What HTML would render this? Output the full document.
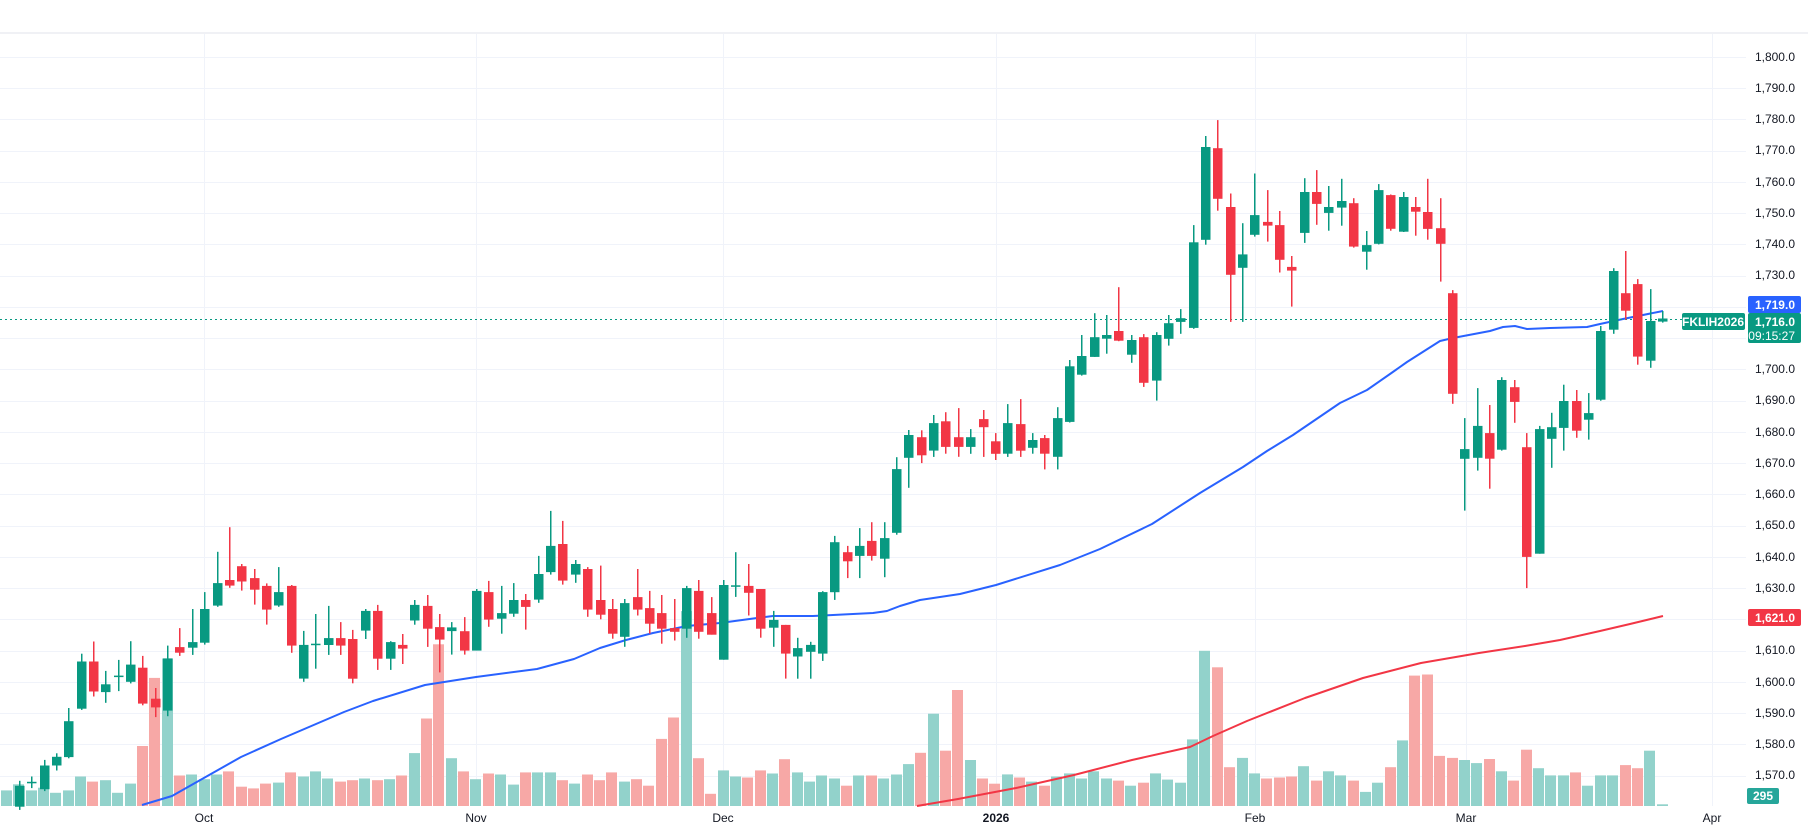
<!DOCTYPE html>
<html><head><meta charset="utf-8"><style>
html,body{margin:0;padding:0;background:#fff;width:1808px;height:829px;overflow:hidden}
svg{display:block;font-family:"Liberation Sans",sans-serif}
</style></head><body>
<svg id="c" width="1808" height="829" xmlns="http://www.w3.org/2000/svg">
<rect x="0" y="0" width="1808" height="829" fill="#fff"/>
<line x1="0" y1="33" x2="1808" y2="33" stroke="#e0e3eb" stroke-width="1"/>
<g id="grid" stroke="#f0f3fa" stroke-width="1"></g>
<g id="vol"></g>
<polyline fill="none" stroke="#2962ff" stroke-width="2" stroke-linejoin="round" points="142,805 172,796 241,757 281,739 344,712 373,701 425,685 476,677 537,669 574,659 600,648 626,640 653,633 687,626 720,623 757,618 773,616 813,616 873,613 887,611 900,606 920,600 960,594 996,585 1060,565 1100,549 1152,524 1200,493 1243,467 1267,451 1293,435 1340,403 1367,390 1390,374 1407,362 1440,341 1453,338 1490,331 1503,327 1515,326 1527,329 1550,328 1587,327 1600,324 1623,319 1663,311"/>
<polyline fill="none" stroke="#f23645" stroke-width="2" stroke-linejoin="round" points="917,806 958,799 1016,788 1074,775 1132,760 1190,747 1213,736 1247,721 1305,698 1363,678 1421,663 1479,653 1525,646 1560,640 1600,631 1630,624 1663,616"/>
<line x1="0" y1="319.5" x2="1682" y2="319.5" stroke="#089981" stroke-width="1" stroke-dasharray="2,3"/>
<g id="cand"></g>
<g font-size="12" fill="#131722" text-anchor="end">
<text x="1795" y="61">1,800.0</text><text x="1795" y="92">1,790.0</text><text x="1795" y="123">1,780.0</text><text x="1795" y="154">1,770.0</text><text x="1795" y="186">1,760.0</text><text x="1795" y="217">1,750.0</text><text x="1795" y="248">1,740.0</text><text x="1795" y="279">1,730.0</text><text x="1795" y="373">1,700.0</text><text x="1795" y="404">1,690.0</text><text x="1795" y="436">1,680.0</text><text x="1795" y="467">1,670.0</text><text x="1795" y="498">1,660.0</text><text x="1795" y="529">1,650.0</text><text x="1795" y="561">1,640.0</text><text x="1795" y="592">1,630.0</text><text x="1795" y="654">1,610.0</text><text x="1795" y="686">1,600.0</text><text x="1795" y="717">1,590.0</text><text x="1795" y="748">1,580.0</text><text x="1795" y="779">1,570.0</text>
</g>
<rect x="1748" y="296" width="53" height="17" rx="2" fill="#2962ff"/>
<text x="1795" y="309" font-size="12" font-weight="bold" fill="#fff" text-anchor="end">1,719.0</text>
<rect x="1682" y="313" width="63" height="17" rx="2" fill="#089981"/>
<text x="1713" y="326" font-size="12" font-weight="bold" fill="#fff" text-anchor="middle">FKLIH2026</text>
<rect x="1748" y="313" width="53" height="30" rx="2" fill="#089981"/>
<text x="1795" y="326" font-size="12" font-weight="bold" fill="#fff" text-anchor="end">1,716.0</text>
<text x="1795" y="340" font-size="12" fill="#fff" text-anchor="end">09:15:27</text>
<rect x="1748" y="609" width="53" height="17" rx="2" fill="#f23645"/>
<text x="1795" y="622" font-size="12" font-weight="bold" fill="#fff" text-anchor="end">1,621.0</text>
<rect x="1747" y="788" width="32" height="16" rx="2" fill="#26a69a"/>
<text x="1763" y="800" font-size="12" font-weight="bold" fill="#fff" text-anchor="middle">295</text>
<g font-size="12" fill="#131722" text-anchor="middle">
<text x="204" y="822">Oct</text><text x="476" y="822">Nov</text><text x="723" y="822">Dec</text><text x="996" y="822" font-weight="bold">2026</text><text x="1255" y="822">Feb</text><text x="1466" y="822">Mar</text><text x="1712" y="822">Apr</text>
</g>
</svg>
<script>
var NS="http://www.w3.org/2000/svg";
function el(p,t,a){var e=document.createElementNS(NS,t);for(var k in a)e.setAttribute(k,a[k]);p.appendChild(e);return e;}
function Y(p){return 57+(1800-p)*3.124;}
var g=document.getElementById('grid');
for(var p=1570;p<=1800;p+=10){var y=Math.round(Y(p))+0.5;el(g,'line',{x1:0,y1:y,x2:1746,y2:y});}
[204,476,723,996,1255,1466,1712].forEach(function(x){el(g,'line',{x1:x+0.5,y1:34,x2:x+0.5,y2:806});});
var D=[null,[1560,1568.3,1559,1566.7],[1567.6,1569.7,1566,1568],[1565.6,1575,1565,1573.2],[1573.2,1577.1,1571.6,1576],[1575.9,1591.6,1575.5,1587.4],[1591.4,1609,1591,1606.5],[1606.5,1612.9,1595.3,1596.9],[1596.7,1603.5,1593.3,1599.2],[1601.6,1607,1597,1602],[1600,1613,1599.5,1605.5],[1604.5,1608.3,1592.5,1593],[1594.6,1598,1588.7,1591.8],[1590.8,1611.6,1589,1607.5],[1611.1,1617.2,1608.3,1609.3],[1610.9,1623.3,1608.6,1612.7],[1612.5,1628.7,1611.9,1623.3],[1624.4,1641.6,1624,1631.6],[1632.6,1649.5,1630.1,1630.8],[1637,1637.7,1629.2,1632.1],[1633.2,1636.1,1624.7,1629.5],[1630.7,1631.5,1618.3,1623.1],[1624.4,1636.7,1624,1628.7],[1630.7,1631,1609.3,1611.6],[1601,1616.3,1600,1611.8],[1612,1621.7,1604.2,1612.2],[1611.8,1624.3,1608.6,1614],[1614,1619.1,1608.6,1611.6],[1613.7,1616.6,1599.5,1601],[1616.4,1623.3,1613.7,1622.7],[1622.7,1624.6,1603.8,1607.4],[1607.4,1613,1603.8,1612.7],[1611.8,1615.3,1605.7,1610.6],[1619.6,1626.2,1618.3,1624.6],[1624.3,1627.8,1611.2,1617],[1617.5,1621.7,1603,1613.5],[1616.2,1619.1,1608.7,1617.4],[1616.2,1620.7,1608.7,1610],[1610,1629.7,1610,1629.1],[1628.7,1632.3,1617.6,1619.9],[1620.2,1630.7,1615.4,1622],[1621.8,1631.6,1620.8,1626.2],[1626.2,1628.1,1616.7,1624],[1626.3,1640.3,1625.3,1634.5],[1635.1,1654.7,1634.3,1643.5],[1644.1,1651.5,1631.1,1632.4],[1634.3,1639,1631.7,1637.7],[1636.1,1636.7,1620.8,1623.1],[1626.2,1637.2,1620,1621.5],[1623.3,1626.5,1613.8,1615.4],[1614.4,1626.5,1611.2,1625.2],[1627.1,1636.1,1621.2,1623.1],[1623.6,1629.1,1615.4,1618.6],[1622,1627.8,1612.2,1617],[1617.2,1626.5,1613.2,1616],[1617,1630.7,1614.1,1630],[1629.1,1632.6,1613.8,1616],[1622,1627.1,1615.1,1615.1],[1607.1,1632.6,1607.1,1631],[1630.5,1641.5,1627.2,1630.9],[1630.7,1637.7,1621.2,1628.5],[1629.7,1629.7,1614.1,1617],[1617.3,1622.7,1611.2,1619.8],[1618.2,1618.2,1601,1609],[1608.1,1614.1,1601,1610.8],[1609.6,1612.8,1601,1611.8],[1609,1629,1606.7,1628.7],[1628.7,1646.7,1626.2,1644.7],[1641.5,1643.5,1633.2,1638.6],[1640.3,1649.2,1633.2,1643.5],[1645.1,1651.1,1638.8,1640.3],[1639.4,1651.1,1633.5,1646],[1647.7,1671.9,1647.1,1668.1],[1671.7,1680.6,1662.1,1679],[1678.3,1680.5,1670,1672.5],[1674,1685.4,1672,1682.8],[1683.4,1686.3,1673,1675.2],[1678.3,1687.6,1672,1675.2],[1675.2,1680.9,1673,1678.3],[1684.1,1687,1672,1681.5],[1677,1679.6,1671,1673],[1673,1688.9,1672,1682.8],[1682.5,1690.5,1672,1674],[1674.9,1679.6,1673,1677.4],[1678,1679,1668,1673],[1672,1687.9,1668,1684.4],[1683.2,1703,1683,1701],[1698.3,1711,1698,1704.3],[1704,1718,1704,1710.3],[1709.8,1717.4,1705,1711],[1712.3,1726.3,1709,1709.2],[1704.7,1711,1702.1,1709.4],[1710.3,1711.3,1694.4,1695.7],[1696.4,1711.9,1690,1711],[1709.8,1717.4,1707.6,1714.8],[1715.2,1719.3,1711.4,1716.4],[1713.3,1746.2,1713,1740.7],[1741.5,1774.7,1739.9,1771.2],[1770.8,1779.8,1750.8,1754.6],[1752,1756.3,1715.2,1730.3],[1732.5,1746.8,1715.2,1736.8],[1743.1,1762.7,1742.5,1749.4],[1747.2,1757.4,1740.9,1746],[1746.2,1750.7,1731,1735.1],[1732.8,1736.3,1720.1,1731.6],[1743.7,1761.2,1740.5,1756.8],[1756.8,1763.8,1746.3,1753],[1750.1,1758.7,1744.4,1752],[1751.8,1761,1746,1753.9],[1753.2,1754.8,1739,1739.3],[1737.7,1744.3,1731.9,1739.8],[1740.2,1759.3,1740,1757.4],[1755.8,1756,1744.4,1745],[1744.1,1756.8,1744,1755.2],[1752,1755.2,1742.8,1750.5],[1750.4,1761,1741.5,1745],[1745.2,1754.8,1728.1,1740.2],[1724.4,1725.4,1689,1692.2],[1671.4,1684.4,1654.8,1674.5],[1671.7,1694,1667.6,1681.9],[1679.6,1688.6,1661.8,1671.4],[1674.3,1697.5,1674,1696.6],[1694.3,1696.6,1682.9,1689.6],[1675.1,1679.6,1630,1640],[1641,1681.9,1641,1680.9],[1677.8,1686.1,1668.5,1681.5],[1681.3,1695.1,1674,1689.9],[1689.9,1693.4,1678.1,1680.4],[1683.9,1692.4,1677.5,1686],[1690.3,1713.9,1690,1712.3],[1712.7,1732.4,1711.4,1731.5],[1724.4,1737.9,1715.9,1718.8],[1727.3,1728.9,1701.5,1704.1],[1702.8,1725.7,1700.5,1715.5],[1715.3,1718.7,1715,1716.3]];
var V1=[443,425,443,435,450,443,402,417,413,450,423,312,111,54,399,396,410,396,387,432,437,423,420,390,402,387,408,417,413,408,413,410,399,333,231,12,348,387,410,393,396,426,390,390,390,413,423,396,413,390,417,410,429,291,228,-86,348,453,384,402,405,384,393,351,390,417,399,408,429,399,399,408,396];
var V2=[366,333,219,327,150,354,408,423,396,405,417,429,402,393,408,387,408,414,429,420,393,411,420,294,36,84,375,348,393,408,405,402,372,414,387,399,414,447,420,375,297,108,105,342,348,354,363,351,387,414,324,378,399,399,390,429,399,399,369,378,327,483];
var H=[];V1.forEach(function(z){H.push((489-z)/2.95);});V2.forEach(function(z){H.push((488-z)/2.913);});
var vg=document.getElementById('vol'),cg=document.getElementById('cand');
var base=806;
for(var i=0;i<135;i++){
 var cx=6.5+i*12.355;var d=D[i];var up=d?d[3]>=d[0]:true;
 var h=H[i];
 el(vg,'rect',{x:(Math.round(cx-5.5)),y:(base-h).toFixed(1),width:11,height:h.toFixed(1),fill:up?'#92d2cb':'#f7a8a6'});
 if(!d)continue;
 var col=up?'#089981':'#f23645';
 var xc=Math.round(cx);
 el(cg,'rect',{x:xc,y:Y(d[1]).toFixed(1),width:1.5,height:(Y(d[2])-Y(d[1])).toFixed(1),fill:col});
 var t=Y(Math.max(d[0],d[3])),b=Y(Math.min(d[0],d[3]));if(b-t<1.5)b=t+1.5;
 el(cg,'rect',{x:xc-4,y:t.toFixed(1),width:9.5,height:(b-t).toFixed(1),fill:col});
}
</script>
</body></html>
